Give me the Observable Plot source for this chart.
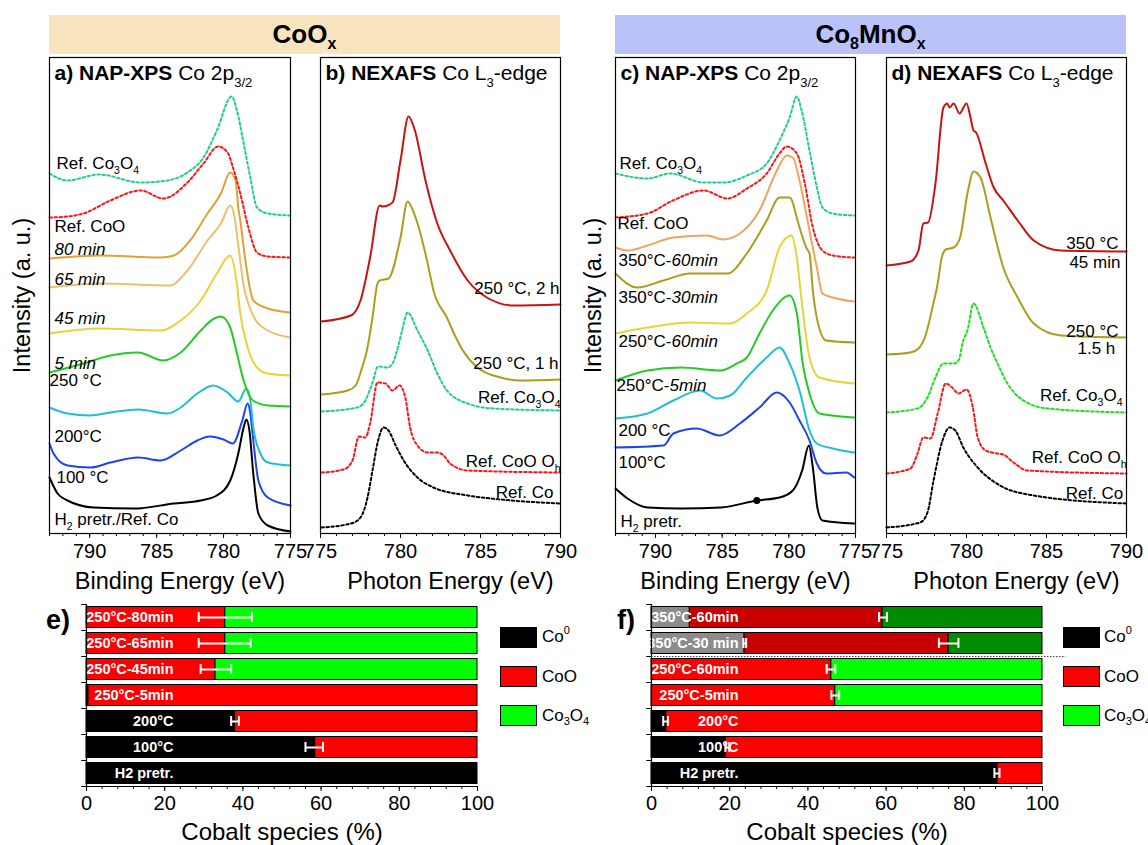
<!DOCTYPE html>
<html><head><meta charset="utf-8">
<script src="https://cdn.jsdelivr.net/npm/d3@7"></script>
<script src="https://cdn.jsdelivr.net/npm/@observablehq/plot@0.6"></script>
<style>
body{margin:0;background:#fff;}
#root{position:relative;width:1148px;height:845px;overflow:hidden;font-family:"Liberation Sans",Arial,Helvetica,sans-serif;color:#000;background:#fff;}
.abs{position:absolute;}
.hdr{position:absolute;top:15px;height:39px;width:511px;text-align:center;font-weight:bold;font-size:26px;line-height:39px;}
.hdr sub{font-size:16px;vertical-align:-6px;line-height:0}
.sw{position:absolute;width:37px;height:21px;border:1px solid #000;box-sizing:border-box;}
.lt{position:absolute;font-size:17px;line-height:21px;white-space:nowrap;}
.lt sub{font-size:11px;vertical-align:-4px;line-height:0}
.lt sup{font-size:11px;vertical-align:8px;line-height:0}
.pl{position:absolute;font-weight:bold;font-size:27px;line-height:30px;}
</style></head>
<body><div id="root">
<div class="hdr" style="left:49px;background:#F8E4BF;"><span>CoO<sub>x</sub></span></div>
<div class="hdr" style="left:615px;background:#B9C3FA;"><span>Co<sub>8</sub>MnO<sub>x</sub></span></div>
<div class="pl" style="left:46px;top:605px;">e)</div>
<div class="pl" style="left:617px;top:605px;">f)</div>
<div class="sw" style="left:500px;top:627px;background:#000;"></div>
<div class="sw" style="left:500px;top:666px;background:#FF0000;"></div>
<div class="sw" style="left:500px;top:705px;background:#00FF00;"></div>
<div class="lt" style="left:542px;top:626px;">Co<sup>0</sup></div>
<div class="lt" style="left:542px;top:666px;">CoO</div>
<div class="lt" style="left:542px;top:705px;">Co<sub>3</sub>O<sub>4</sub></div>
<div class="sw" style="left:1063px;top:627px;background:#000;"></div>
<div class="sw" style="left:1063px;top:666px;background:#FF0000;"></div>
<div class="sw" style="left:1063px;top:705px;background:#00FF00;"></div>
<div class="lt" style="left:1104px;top:626px;">Co<sup>0</sup></div>
<div class="lt" style="left:1104px;top:666px;">CoO</div>
<div class="lt" style="left:1104px;top:705px;">Co<sub>3</sub>O<sub>4</sub></div>
</div>
<script>
const FONT = '"Liberation Sans", Arial, Helvetica, sans-serif';
const root = document.getElementById("root");

// ---------- Panel a: NAP-XPS Co 2p3/2, CoOx  [binding energy eV, intensity a.u.]
const a_refCo3O4 = [[793,360],[791.66,353],[789.3,359],[786.2,351],[784.2,353],[782.7,361],[781.5,376],[780.5,403],[779.4,437],[779.0,423],[778.5,390],[778.0,356],[777.5,326],[776.7,320],[775,318]];
const a_refCoO = [[793,316],[791.66,317],[790.46,320],[788.45,333],[786.2,343],[784.5,335],[782.7,351],[781.5,370],[780.4,387],[779.7,381],[779.3,366],[778.75,340],[778.15,306],[777.5,281],[776.7,277],[775,276]];
const a_80min = [[793,275],[789.2,278],[784.7,276],[783.7,278],[782.5,293],[781.2,320],[780.2,340],[779.5,361],[779.1,353],[778.9,326],[778.75,313],[778.37,273],[778.0,243],[777.78,233],[776.7,225],[775,221]];
const a_65min = [[793,246],[789.2,250],[784.0,248],[782.7,263],[781.2,293],[780.2,310],[779.5,328],[779.2,318],[778.9,288],[778.5,248],[778.1,228],[777.8,218],[776.7,203],[775,196]];
const a_45min = [[793,200],[789.2,205],[784.7,203],[783.2,213],[781.7,233],[780.5,260],[779.5,278],[779.04,253],[778.75,220],[778.2,186],[777.5,166],[776.7,160],[775,158]];
const a_5min = [[793,161],[790.46,170],[788.45,178],[786.4,181],[784.5,173],[783.2,181],[781.7,203],[780.7,215],[780.2,217],[779.5,206],[779.0,180],[778.5,153],[777.8,133],[776.7,128],[775,127]];
const a_200C = [[793,126],[791.66,120],[789.94,118],[788.45,121],[786.36,124],[784.2,120],[783.2,126],[781.96,140],[780.76,148],[779.7,141],[778.9,132],[778.3,145],[778.0,133],[777.78,106],[777.25,80],[776.7,71],[775,68]];
const a_100C = [[793,90],[792.7,80],[791.66,68],[789.94,66],[788.45,71],[786.36,76],[784.7,73],[783.2,83],[781.96,93],[781.0,97],[780.0,94],[779.3,90],[778.6,113],[778.2,130],[778.0,120],[777.78,93],[777.4,53],[776.7,36],[775,28]];
const a_H2 = [[793,56],[792.4,40],[791.66,33],[789.7,26],[786.7,25],[783.7,30],[781.7,33],[780.5,38],[779.5,53],[778.9,80],[778.5,106],[778.3,114],[778.07,103],[777.78,60],[777.4,20],[776.7,8],[775,2]];
const a_labels = [[792.48,370,"Ref. Co_{3}O_{4}"],[792.63,307,"Ref. CoO"],[792.63,284,"~{80 min}"],[792.63,254,"~{65 min}"],[792.63,215,"~{45 min}"],[792.63,170,"~{5 min}"],[793,153,"250 °C"],[792.63,97,"200°C"],[792.48,56,"100 °C"],[792.63,14,"H_{2} pretr./Ref. Co"]];

// ---------- Panel b: NEXAFS Co L3-edge, CoOx  [photon energy eV, intensity]
const b_2h = [[775.06,212],[776.9,218],[777.5,233],[778.1,276],[778.7,328],[778.9,327],[779.5,331],[780.0,373],[780.5,417],[780.9,403],[781.56,353],[782.3,310],[783.1,283],[784.2,253],[785.4,236],[787.06,228],[790,229]];
const b_1h = [[775.06,139],[776.7,143],[777.2,148],[777.6,166],[777.9,183],[778.25,216],[778.56,250],[778.7,253],[779.25,255],[780.0,296],[780.44,332],[780.94,316],[781.7,270],[782.06,243],[782.9,216],[783.4,198],[783.9,183],[784.8,166],[786.25,156],[787.5,153],[790,154]];
const b_refCo3O4 = [[775.06,122],[777.3,126],[777.8,133],[778.25,151],[778.6,167],[779.2,166],[779.5,170],[779.9,190],[780.1,203],[780.44,221],[781.06,203],[781.7,183],[782.3,160],[782.9,143],[784.2,130],[785.8,125],[790,123]];
const b_refCoO = [[775.06,61],[776.44,64],[777.0,73],[777.4,97],[777.8,96],[778.1,110],[778.56,151],[779.06,150],[779.5,143],[779.94,148],[780.3,136],[780.6,106],[781.06,88],[781.7,81],[782.3,81],[782.7,78],[783.1,70],[784.2,63],[790,61]];
const b_refCo = [[775.06,6],[776.9,10],[777.5,16],[777.94,36],[778.25,63],[778.6,93],[778.94,106],[779.25,103],[779.7,88],[780.2,73],[781.06,56],[782.06,46],[784.2,38],[786.25,34],[790,30]];
const b_labels = [[789.94,245,"250 °C, 2 h"],[789.88,170,"250 °C, 1 h"],[790,136,"Ref. Co_{3}O_{4}"],[790,72,"Ref. CoO O_{h}"],[789.56,41,"Ref. Co"]];

// ---------- Panel c: NAP-XPS Co 2p3/2, Co8MnOx
const c_refCo3O4 = [[793,360],[790.6,355],[788.9,360],[786.4,351],[784.9,351],[783.15,358],[781.66,370],[780.7,393],[779.94,416],[779.4,437],[779.04,423],[778.45,383],[777.9,346],[777.48,326],[776.7,320],[775.1,318]];
const c_refCoO = [[793,316],[790.6,320],[788.7,333],[786.4,343],[784.6,335],[783.15,345],[781.66,360],[780.7,380],[780.16,387],[779.4,380],[778.8,350],[778.2,306],[777.48,283],[776.7,278],[775.1,276]];
const c_350_60 = [[793,286],[792.1,283],[790.6,288],[788.66,296],[786.13,298],[784.94,294],[783.67,300],[782.2,323],[780.9,363],[780.16,378],[779.7,376],[779.2,353],[778.6,313],[777.9,266],[777.48,240],[776.7,236],[775.1,232]];
const c_350_30 = [[793,260],[791.36,246],[789.4,253],[787.4,260],[784.6,260],[783.15,280],[781.66,313],[780.7,336],[779.94,336],[779.2,306],[778.66,285],[778.45,280],[778.2,243],[777.86,213],[777.2,193],[775.1,191]];
const c_250_60 = [[793,200],[790.6,206],[787.4,211],[784.4,210],[783.15,220],[781.66,243],[780.7,286],[779.8,298],[779.4,276],[779.04,233],[778.45,176],[777.7,156],[775.1,150]];
const c_250_5 = [[793,153],[790.6,163],[788.1,166],[785.1,163],[783.9,170],[783.15,176],[782.2,200],[781.2,223],[779.94,238],[779.4,220],[778.96,170],[778.45,140],[777.7,120],[775.1,116]];
const c_200C = [[793,115],[790.6,120],[788.66,133],[786.66,143],[785.4,135],[784.4,138],[783.15,156],[781.66,176],[780.7,186],[779.94,170],[779.2,143],[778.45,103],[777.9,90],[776.7,85],[775.1,81]];
const c_100C = [[793,86],[789.4,88],[788.66,100],[786.9,105],[785.2,98],[783.67,110],[782.2,126],[780.9,141],[779.94,131],[779.2,113],[778.45,93],[777.9,70],[777.2,60],[775.7,61],[775.1,56]];
const c_H2 = [[793,45],[792.1,35],[790.6,26],[788.1,25],[785.1,26],[782.4,33],[780.7,36],[779.7,43],[779.0,63],[778.5,88],[778.2,66],[777.86,26],[777.48,13],[775.1,10]];
const c_marker = [[782.4,33]];
const c_labels = [[792.7,370,"Ref. Co_{3}O_{4}"],[792.85,310,"Ref. CoO"],[792.78,273,"350°C-~{60min}"],[792.78,236,"350°C-~{30min}"],[792.78,192,"250°C-~{60min}"],[792.93,148,"250°C-~{5min}"],[792.78,103,"200 °C"],[792.78,71,"100°C"],[792.63,12,"H_{2} pretr."]];

// ---------- Panel d: NEXAFS Co L3-edge, Co8MnOx
const d_350 = [[775,268],[776.5,272],[777.0,283],[777.3,310],[777.6,311],[778.06,350],[778.56,426],[778.8,430],[778.94,426],[779.2,430],[779.56,420],[780.0,430],[780.25,416],[780.44,403],[780.6,401],[781.2,370],[781.7,346],[782.3,333],[783.2,313],[784.2,293],[785.9,283],[790,282]];
const d_250 = [[775,179],[776.5,181],[777.0,185],[777.44,198],[777.9,228],[778.2,250],[778.44,275],[778.7,284],[779.2,286],[779.6,296],[780.06,340],[780.44,362],[780.875,356],[781.5,316],[782.3,266],[783.2,236],[784.2,210],[785.9,198],[790,196]];
const d_refCo3O4 = [[775,121],[776.94,125],[777.56,136],[778.06,156],[778.56,170],[779.2,170],[779.5,173],[779.8,193],[780.06,203],[780.44,230],[781.06,206],[781.5,186],[781.94,170],[782.56,150],[783.56,133],[785.06,125],[790,121]];
const d_refCoO = [[775,60],[776.5,65],[776.94,80],[777.3,96],[777.75,95],[778.2,120],[778.7,150],[779.1,146],[779.5,140],[780.0,144],[780.4,126],[780.7,96],[781.2,83],[781.94,80],[782.3,79],[782.94,71],[783.8,63],[790,60]];
const d_refCo = [[775,6],[777.1,11],[777.56,21],[777.94,53],[778.5,93],[778.94,106],[779.3,103],[779.8,86],[780.7,66],[782.1,48],[784.2,38],[790,30]];
const d_labels = [[789.5,290,"350 °C"],[789.62,271,"45 min"],[789.5,202,"250 °C"],[789.3,185,"1.5 h"],[789.75,138,"Ref. Co_{3}O_{4}"],[790,76,"Ref. CoO O_{h}"],[789.8,40,"Ref. Co"]];

// ---------- axis ticks
const xpsTicks = [790, 785, 780, 775];
const xasTicks = [775, 780, 785, 790];
const pctTicks = [0, 20, 40, 60, 80, 100];

// ---------- Panel e: Cobalt species (%), CoOx
const e_cats = ["250°C-80min","250°C-65min","250°C-45min","250°C-5min","200°C","100°C","H2 pretr."];
const e_Co0 = [0, 0, 0, 0.5, 38, 58.5, 100];
const e_CoO = [35.5, 35.5, 33, 99.5, 62, 41.5, 0];
const e_Co3O4 = [64.5, 64.5, 67, 0, 0, 0, 0];
const e_err = [["250°C-80min",28.7,42.3],["250°C-65min",28.7,42],["250°C-45min",29.2,37],["200°C",37,39],["100°C",56,60.5]];

// ---------- Panel f: Cobalt species (%), Co8MnOx
const f_cats = ["350°C-60min","350°C-30 min","250°C-60min","250°C-5min","200°C","100°C","H2 pretr."];
const f_Co0 = [9.8, 23.8, 0, 0, 3.8, 19, 88.5];
const f_CoO = [49.3, 52.2, 46, 47, 96.2, 81, 11.5];
const f_Co3O4 = [40.9, 24, 54, 53, 0, 0, 0];
const f_err = [["350°C-60min",58.2,60.2],["350°C-30 min",73.5,78.5],["350°C-30 min",23.5,24.2],["250°C-60min",44.8,47],["250°C-5min",46,48],["200°C",3,4.2],["100°C",18.9,19.9],["H2 pretr.",87.7,89]];
const f_darkRows = ["350°C-60min","350°C-30 min"];

const SPECIES = ["Co0","CoO","Co3O4"];
const BRIGHT = {Co0: "#000000", CoO: "#FF0000", Co3O4: "#00FF00"};
const DARK = {Co0: "#8C8C8C", CoO: "#C80000", Co3O4: "#008C00"};

// ---------- rich text (sub/superscript, italic, bold) inside SVG text
function richify(svg) {
  const ns = "http://www.w3.org/2000/svg";
  svg.querySelectorAll("text").forEach(t => {
    const s = t.textContent;
    if (!/[_^~!]\{/.test(s)) return;
    const fs = parseFloat(getComputedStyle(t).fontSize) || 16;
    while (t.firstChild) t.removeChild(t.firstChild);
    const re = /([_^~!])\{([^}]*)\}/g;
    const parts = []; let last = 0, m;
    while ((m = re.exec(s))) {
      if (m.index > last) parts.push(["", s.slice(last, m.index)]);
      parts.push([m[1], m[2]]); last = re.lastIndex;
    }
    if (last < s.length) parts.push(["", s.slice(last)]);
    let shift = 0;
    for (const [k, str] of parts) {
      const ts = document.createElementNS(ns, "tspan");
      let target = 0;
      if (k === "_") { target = 0.3 * fs; ts.setAttribute("font-size", (0.62 * fs).toFixed(1)); }
      if (k === "^") { target = -0.42 * fs; ts.setAttribute("font-size", (0.62 * fs).toFixed(1)); }
      if (k === "~") ts.setAttribute("font-style", "italic");
      if (k === "!") ts.setAttribute("font-weight", "bold");
      const d = target - shift;
      if (d) ts.setAttribute("dy", d.toFixed(2));
      shift = target;
      ts.textContent = str;
      t.appendChild(ts);
    }
  });
}

function mount(svg, left, top) {
  const d = document.createElement("div");
  d.className = "abs";
  d.style.left = left + "px"; d.style.top = top + "px";
  d.appendChild(svg);
  root.appendChild(d);
  richify(svg);
}

const STYLE = {fontFamily: FONT, fontSize: "20px", background: "transparent", overflow: "visible", maxWidth: "none", color: "black"};
const DASH = "2.5,2.5";

function spectra(o) {
  const marks = [];
  for (const s of o.series) {
    marks.push(Plot.line(s.data, {x: d => d[0], y: d => d[1], stroke: s.color, strokeWidth: 2,
      strokeDasharray: s.dashed ? DASH : null, curve: "monotone-x"}));
  }
  if (o.extra) marks.push(...o.extra);
  marks.push(Plot.text(o.labels, {x: d => d[0], y: d => d[1], text: d => d[2], textAnchor: o.anchor, lineAnchor: "middle", fontSize: 17}));
  marks.push(Plot.frame({stroke: "black", strokeWidth: 1.2}));
  marks.push(Plot.axisX(o.minor, {tickSize: 3, tickFormat: () => ""}));
  marks.push(Plot.axisX(o.ticks, {tickSize: 5, tickPadding: 5, tickFormat: d => String(d)}));
  marks.push(Plot.text([o.title], {frameAnchor: "top-left", dx: 5, dy: 8, fontSize: 21}));
  marks.push(Plot.text([o.xlabel], {frameAnchor: "bottom", dx: 10, dy: 48, textAnchor: "middle", lineAnchor: "middle", fontSize: 23.5}));
  if (o.ylabel) marks.push(Plot.text([o.ylabel], {frameAnchor: "left", dx: o.ydx, rotate: -90, textAnchor: "middle", lineAnchor: "middle", fontSize: 23.5}));
  return Plot.plot({width: o.width, height: 600, marginLeft: o.ml, marginRight: o.mr, marginTop: 57, marginBottom: 67,
    x: {domain: o.domain, label: null}, y: {domain: [0, 476], axis: null, label: null}, style: STYLE, marks});
}

function bars(o) {
  const vals = [o.Co0, o.CoO, o.Co3O4];
  const rows = [];
  o.cats.forEach((c, i) => SPECIES.forEach((sp, j) => {
    const v = vals[j][i];
    if (v > 0) rows.push({cat: c, sp, v, fill: (o.dark || []).includes(c) ? DARK[sp] : BRIGHT[sp]});
  }));
  const last = o.cats[o.cats.length - 1];
  const marks = [
    Plot.barX(rows, Plot.stackX({x: "v", y: "cat", fill: "fill", stroke: "black", strokeWidth: 1, insetTop: 2.5, insetBottom: 2.5})),
    Plot.text(o.cats, {y: d => d, frameAnchor: "left", dx: 87, textAnchor: "end", lineAnchor: "middle", fill: "white", fontWeight: "bold", fontSize: 14.5}),
    Plot.ruleY(o.err, {y: d => d[0], x1: d => d[1], x2: d => d[2], stroke: "white", strokeWidth: 2}),
    Plot.tickX(o.err, {x: d => d[1], y: d => d[0], stroke: "white", strokeWidth: 2, insetTop: 8, insetBottom: 8}),
    Plot.tickX(o.err, {x: d => d[2], y: d => d[0], stroke: "white", strokeWidth: 2, insetTop: 8, insetBottom: 8}),
    Plot.ruleX([0], {stroke: "black", strokeWidth: 1.2}),
    Plot.ruleY([last], {y: d => d, dy: 13, stroke: "black", strokeWidth: 1.2}),
    Plot.ruleY(o.cats, {y: d => d, x1: -1.2, x2: 0, dy: -13, stroke: "black"}),
    Plot.ruleY([last], {y: d => d, x1: -1.2, x2: 0, dy: 13, stroke: "black"}),
    Plot.axisX(d3.range(0, 101, 4), {tickSize: 3, tickFormat: () => "", label: null}),
    Plot.axisX(pctTicks, {tickSize: 5, tickPadding: 4, tickFormat: d => String(d), label: null}),
    Plot.text(["Cobalt species (%)"], {frameAnchor: "bottom", dy: 46, textAnchor: "middle", lineAnchor: "middle", fontSize: 24})
  ];
  if (o.sep) marks.push(Plot.ruleY([o.sep], {y: d => d, dy: 13, x1: 0, x2: 106, stroke: "#444", strokeWidth: 1.2, strokeDasharray: "1.5,1.5"}));
  return Plot.plot({width: 560, height: 255, marginLeft: 86, marginRight: 83, marginTop: 14, marginBottom: 59,
    x: {domain: [0, 100], label: null}, y: {domain: o.cats, type: "band", padding: 0, axis: null, label: null},
    color: {type: "identity"}, style: STYLE, marks});
}

// ---------- build panels
mount(spectra({
  width: 300, ml: 49, mr: 10, domain: [793, 775], ticks: xpsTicks, minor: d3.range(775, 794),
  title: "!{a) NAP-XPS} Co 2p_{3/2}", xlabel: "Binding Energy (eV)", ylabel: "Intensity (a. u.)", ydx: -27, anchor: "start",
  labels: a_labels,
  series: [
    {data: a_H2, color: "#000000"}, {data: a_100C, color: "#2142F2"}, {data: a_200C, color: "#22BFCC"},
    {data: a_5min, color: "#22CC22"}, {data: a_45min, color: "#E5D53A"}, {data: a_65min, color: "#EDBF6E"},
    {data: a_80min, color: "#E2A133"}, {data: a_refCoO, color: "#FF1414", dashed: true},
    {data: a_refCo3O4, color: "#1FCF8B", dashed: true}
  ]
}), 0, 0);

mount(spectra({
  width: 280, ml: 20, mr: 20, domain: [775, 790], ticks: xasTicks, minor: d3.range(775, 791),
  title: "!{b) NEXAFS} Co L_{3}-edge", xlabel: "Photon Energy (eV)", anchor: "end",
  labels: b_labels,
  series: [
    {data: b_refCo, color: "#000000", dashed: true}, {data: b_refCoO, color: "#FF1414", dashed: true},
    {data: b_refCo3O4, color: "#1FCF8B", dashed: true}, {data: b_1h, color: "#A99E1E"}, {data: b_2h, color: "#CC1111"}
  ]
}), 300, 0);

mount(spectra({
  width: 300, ml: 45, mr: 15, domain: [793, 775], ticks: xpsTicks, minor: d3.range(775, 794),
  title: "!{c) NAP-XPS} Co 2p_{3/2}", xlabel: "Binding Energy (eV)", ylabel: "Intensity (a. u.)", ydx: -22, anchor: "start",
  labels: c_labels,
  extra: [Plot.dot(c_marker, {x: d => d[0], y: d => d[1], r: 3.5, fill: "black"})],
  series: [
    {data: c_H2, color: "#000000"}, {data: c_100C, color: "#2142F2"}, {data: c_200C, color: "#22BFCC"},
    {data: c_250_5, color: "#22CC22"}, {data: c_250_60, color: "#E5D53A"}, {data: c_350_30, color: "#A99E1E"},
    {data: c_350_60, color: "#F3A262"}, {data: c_refCoO, color: "#FF1414", dashed: true},
    {data: c_refCo3O4, color: "#1FCF8B", dashed: true}
  ]
}), 570, 0);

mount(spectra({
  width: 280, ml: 20, mr: 20, domain: [775, 790], ticks: xasTicks, minor: d3.range(775, 791),
  title: "!{d) NEXAFS} Co L_{3}-edge", xlabel: "Photon Energy (eV)", anchor: "end",
  labels: d_labels,
  series: [
    {data: d_refCo, color: "#000000", dashed: true}, {data: d_refCoO, color: "#FF1414", dashed: true},
    {data: d_refCo3O4, color: "#22DD22", dashed: true}, {data: d_250, color: "#A99E1E"}, {data: d_350, color: "#CC1111"}
  ]
}), 866, 0);

mount(bars({cats: e_cats, Co0: e_Co0, CoO: e_CoO, Co3O4: e_Co3O4, err: e_err}), 0, 590);
mount(bars({cats: f_cats, Co0: f_Co0, CoO: f_CoO, Co3O4: f_Co3O4, err: f_err, dark: f_darkRows, sep: "350°C-30 min"}), 565, 590);

// keep HTML legends/labels on top
root.querySelectorAll(".sw,.lt,.pl").forEach(el => root.appendChild(el));
</script>
</body></html>
